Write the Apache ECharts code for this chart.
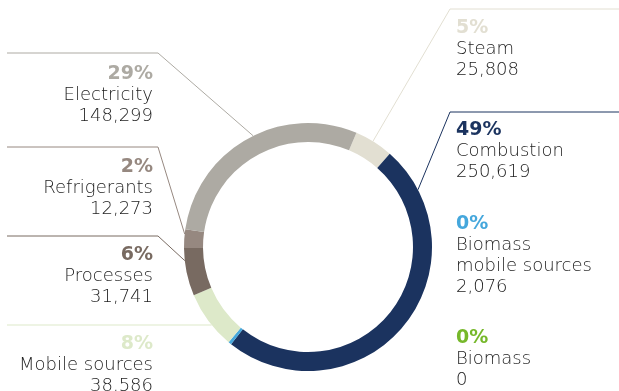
<!DOCTYPE html>
<html>
<head>
<meta charset="utf-8">
<script src="https://cdn.jsdelivr.net/npm/echarts@6/dist/echarts.min.js"></script>
<style>
  html, body { margin: 0; padding: 0; background: #ffffff; }
  #chart { width: 619px; height: 391px; }
</style>
</head>
<body>
<div id="chart"></div>
<script>
// Emission sources, listed clockwise from Steam
const categories = ['Steam', 'Combustion', 'Biomass\nmobile sources', 'Biomass',
                    'Mobile sources', 'Processes', 'Refrigerants', 'Electricity'];
const emissions = [25808, 250619, 2076, 0, 38586, 31741, 12273, 148299];
const sliceColors = ['#e2dfd2', '#1b335f', '#45a7dc', '#76b82a',
                     '#dde9c9', '#786a61', '#968880', '#adaaa3'];

// Label block placement: side, top of block, leader line height, elbow x, anchor within slice (0..1)
const labelPlacement = [
  { side: 'right', top: 17,  lineY: 9,   elbowX: 450, at: 0.47 },
  { side: 'right', top: 119, lineY: 112, elbowX: 450, at: 0.12 },
  { side: 'right', top: 213 },
  { side: 'right', top: 327 },
  { side: 'left',  top: 333, lineY: 325, elbowX: null, at: 0.45 },
  { side: 'left',  top: 244, lineY: 236, elbowX: 158, at: 0.74 },
  { side: 'left',  top: 156, lineY: 147, elbowX: 158, at: 0.75 },
  { side: 'left',  top: 63,  lineY: 53,  elbowX: 158, at: 0.53 }
];

const LEFT_TEXT_X = 153, RIGHT_TEXT_X = 456, LEFT_END = 7, RIGHT_END = 619;
const FONT = '"DejaVu Sans", "Noto Sans", sans-serif';

const chart = echarts.init(document.getElementById('chart'), null, { renderer: 'canvas' });

const seriesData = categories.map((name, i) => ({
  name: name,
  value: emissions[i],
  itemStyle: { color: sliceColors[i] },
  label: { color: sliceColors[i] },
  labelLine: { show: labelPlacement[i].at != null }
}));

function formatLabel(params) {
  const pct = Math.round(params.percent);
  const nameLines = params.name.split('\n').map(s => '{n|' + s + '}').join('\n');
  return '{p|' + pct + '%}\n' + nameLines + '\n{v|' + params.value.toLocaleString('en-US') + '}';
}

function placeLabel(params) {
  const i = params.dataIndex;
  const p = labelPlacement[i];
  const res = {
    x: p.side === 'left' ? LEFT_TEXT_X : RIGHT_TEXT_X,
    y: p.top,
    align: p.side === 'left' ? 'right' : 'left',
    verticalAlign: 'top'
  };
  if (p.at != null) {
    const lay = chart.getModel().getSeriesByIndex(0).getData().getItemLayout(i);
    const a = lay.startAngle + p.at * (lay.endAngle - lay.startAngle);
    const ax = lay.cx + lay.r * Math.cos(a);
    const ay = lay.cy + lay.r * Math.sin(a);
    const ex = p.side === 'left' ? LEFT_END : RIGHT_END;
    let elbow, ly;
    if (p.elbowX == null) {
      // straight horizontal leader: meet the ring at the line height
      ly = p.lineY;
      const dy = ly - lay.cy;
      const dx = Math.sqrt(lay.r * lay.r - dy * dy) * (p.side === 'left' ? -1 : 1);
      res.labelLinePoints = [[lay.cx + dx, ly], [lay.cx + dx, ly], [ex, ly]];
      return res;
    }
    ly = p.lineY;
    elbow = [p.elbowX, ly];
    res.labelLinePoints = [[ax, ay], elbow, [ex, ly]];
  }
  return res;
}

chart.setOption({
  animation: false,
  series: [{
    type: 'pie',
    center: [308, 247],
    radius: [105, 124],
    startAngle: 67,
    clockwise: true,
    avoidLabelOverlap: false,
    silent: true,
    emphasis: { disabled: true },
    itemStyle: { borderWidth: 0 },
    label: {
      show: true,
      position: 'outside',
      formatter: formatLabel,
      rich: {
        p: { fontFamily: FONT, fontWeight: 'bold', fontSize: 19, lineHeight: 22 },
        n: { fontFamily: FONT, fontWeight: 300, fontSize: 18, lineHeight: 21, color: '#1c1c1c' },
        v: { fontFamily: FONT, fontWeight: 300, fontSize: 18, lineHeight: 21, color: '#1c1c1c' }
      }
    },
    labelLine: { show: true, lineStyle: { width: 1 } },
    labelLayout: placeLabel,
    data: seriesData
  }]
});
</script>
</body>
</html>
